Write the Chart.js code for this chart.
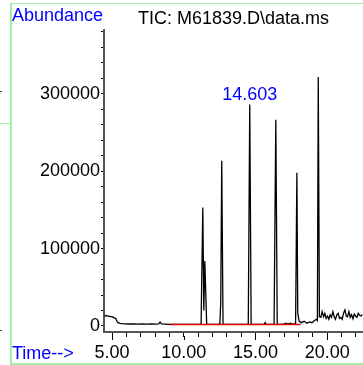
<!DOCTYPE html>
<html>
<head>
<meta charset="utf-8">
<script src="https://cdn.jsdelivr.net/npm/chart.js@4.4.1/dist/chart.umd.min.js"></script>
<style>
    body { margin: 0; background: #fff; }
    #wrap { position: relative; width: 363px; height: 365px; overflow: hidden; font-family: "Liberation Sans", Arial, sans-serif; }
    #chart { position: absolute; left: 0; top: 0; }
    .frame { position: absolute; left: 10px; top: 3px; width: 400px; height: 362px; box-sizing: border-box;
             border-left: 2px solid #a3eea3; border-top: 1px solid #a3eea3; border-bottom: 2px solid #a3eea3; }
    .stub { position: absolute; left: 0; top: 123px; width: 10px; height: 1px; background: #a3eea3; }
    .dot { position: absolute; left: 0; width: 2px; height: 1px; background: #444; }
    .lbl { position: absolute; font-size: 18px; line-height: 18px; color: #0000ff; white-space: nowrap; }
</style>
</head>
<body>
<div id="wrap">
    <div class="frame"></div>
    <div class="stub"></div>
    <div class="dot" style="top:91px"></div>
    <div class="dot" style="top:330px"></div>
    <canvas id="chart" width="363" height="365"></canvas>
    <div class="lbl" style="left:12px; top:6px">Abundance</div>
    <div class="lbl" style="left:12px; top:344px">Time--&gt;</div>
</div>
<script>
// TIC trace: retention time (min) and abundance
const times = [
    4.46, 4.60, 4.75, 4.90, 5.00, 5.15, 5.25, 5.35, 5.42, 5.55, 5.70, 5.90, 6.20, 6.50, 6.80, 7.10,
    7.40, 7.70, 8.00, 8.25, 8.35, 8.45, 8.70, 9.00, 9.50, 10.00, 10.50, 11.00, 11.21, 11.33, 11.40, 11.47,
    11.60, 12.00, 12.40, 12.52, 12.58, 12.65, 12.74, 13.20, 13.80, 14.30, 14.50, 14.603, 14.70, 15.20,
    15.60, 15.68, 15.75, 16.10, 16.30, 16.42, 16.52, 16.90, 17.15, 17.25, 17.45, 17.55, 17.80, 17.89,
    17.95, 18.05, 18.20, 18.40, 18.59, 18.77, 18.94, 19.10, 19.24, 19.32, 19.38, 19.46, 19.56, 19.65,
    19.75, 19.84, 19.93, 20.03, 20.12, 20.21, 20.30, 20.40, 20.49, 20.58, 20.68, 20.77, 20.86, 20.96,
    21.05, 21.14, 21.24, 21.33, 21.42, 21.52, 21.61, 21.70, 21.80, 21.89, 21.98, 22.08, 22.17, 22.26,
    22.36, 22.45
];
const abundance = [
    13000, 13300, 12800, 12200, 12000, 10500, 10000, 6000, 4300, 3500, 3000, 2800, 2600, 2700, 2400, 2600,
    2500, 2800, 2500, 2700, 5000, 2600, 2400, 2200, 2000, 2000, 2100, 2000, 2200, 153000, 20000, 84000,
    2500, 2000, 2000, 3000, 30000, 213500, 2500, 2000, 2100, 2000, 2500, 286000, 2500, 2000,
    2200, 4500, 2200, 2000, 2500, 266500, 2500, 2200, 3500, 2300, 3500, 2500, 3000, 198000,
    17000, 6000, 4300, 6100, 3500, 5200, 4300, 6900, 8700, 7000, 321800, 12000, 11200, 18500,
    12000, 16400, 9900, 12900, 8600, 14200, 11200, 18500, 12000, 8600, 14700, 16400, 9900, 11200,
    8600, 16400, 20700, 12900, 12000, 18500, 11200, 14700, 9400, 15500, 12900, 11200, 16400, 13800,
    12900, 14700
];

// integration baseline (red)
const baseTimes = [9.05, 18.15];
const baseValues = [1800, 1800];

// labelled peak
const peakTimes = [14.603];
const peakValues = [286000];
const peakLabels = ["14.603"];

// ticks: every minute / every 20000 counts, labels on the major ones
const xTicks = [5, 6, 7, 8, 9, 10, 11, 12, 13, 14, 15, 16, 17, 18, 19, 20, 21, 22];
const xLabelled = [5, 10, 15, 20];
const yTicks = [0, 20000, 40000, 60000, 80000, 100000, 120000, 140000, 160000, 180000, 200000,
                220000, 240000, 260000, 280000, 300000, 320000, 340000, 360000, 380000];
const yLabelled = [0, 100000, 200000, 300000];

const xMin = 4.44, xMax = 22.5;
const yMin = -7760, yMax = 382900;

const FONT = '"Liberation Sans", Arial, sans-serif';

const tic = times.map((t, i) => ({ x: t, y: abundance[i] }));
const baseline = baseTimes.map((t, i) => ({ x: t, y: baseValues[i] }));

// longer marks on labelled time ticks + retention time text over the peak
const extras = {
    id: "extras",
    afterDraw(chart) {
        const { ctx, scales: { x, y } } = chart;
        ctx.save();
        ctx.strokeStyle = "#000";
        ctx.lineWidth = 1;
        xLabelled.forEach(v => {
            const px = Math.round(x.getPixelForValue(v)) + 0.5;
            ctx.beginPath();
            ctx.moveTo(px, x.top + 4);
            ctx.lineTo(px, x.top + 8);
            ctx.stroke();
        });
        ctx.fillStyle = "#0000ff";
        ctx.font = "18px " + FONT;
        ctx.textAlign = "center";
        ctx.textBaseline = "alphabetic";
        peakTimes.forEach((t, i) => {
            ctx.fillText(peakLabels[i], x.getPixelForValue(t), y.getPixelForValue(peakValues[i]) - 5);
        });
        ctx.restore();
    }
};

new Chart(document.getElementById("chart").getContext("2d"), {
    type: "line",
    data: {
        datasets: [
            { data: baseline, borderColor: "#e00000", borderWidth: 1.5, pointRadius: 0, order: 0 },
            { data: tic, borderColor: "#000", borderWidth: 1.3, pointRadius: 0, order: 1 }
        ]
    },
    options: {
        responsive: false,
        animation: false,
        layout: { padding: 0 },
        plugins: {
            legend: { display: false },
            tooltip: { enabled: false },
            title: {
                display: true,
                text: "TIC: M61839.D\\data.ms",
                fullSize: false,
                color: "#000",
                font: { size: 18, weight: "normal", family: FONT },
                padding: { top: 8, bottom: 0 }
            }
        },
        scales: {
            x: {
                type: "linear",
                min: xMin,
                max: xMax,
                border: { color: "#555", width: 2 },
                grid: { drawOnChartArea: false, tickLength: 5, color: "#000", lineWidth: 1 },
                afterBuildTicks: s => { s.ticks = xTicks.map(v => ({ value: v })); },
                ticks: {
                    autoSkip: false,
                    maxRotation: 0,
                    padding: 5,
                    color: "#000",
                    font: { size: 18, family: FONT },
                    callback: v => (xLabelled.includes(v) ? v.toFixed(2) : "")
                },
                afterFit: s => { s.height = 33; }
            },
            y: {
                type: "linear",
                min: yMin,
                max: yMax,
                border: { color: "#555", width: 2 },
                grid: { drawOnChartArea: false, tickLength: 3, color: "#000", lineWidth: 1 },
                afterBuildTicks: s => { s.ticks = yTicks.map(v => ({ value: v })); },
                ticks: {
                    autoSkip: false,
                    padding: 1,
                    color: "#000",
                    font: { size: 18, family: FONT },
                    callback: v => (yLabelled.includes(v) ? String(v) : "")
                },
                afterFit: s => { s.width = 104; }
            }
        }
    },
    plugins: [extras]
});
</script>
</body>
</html>
